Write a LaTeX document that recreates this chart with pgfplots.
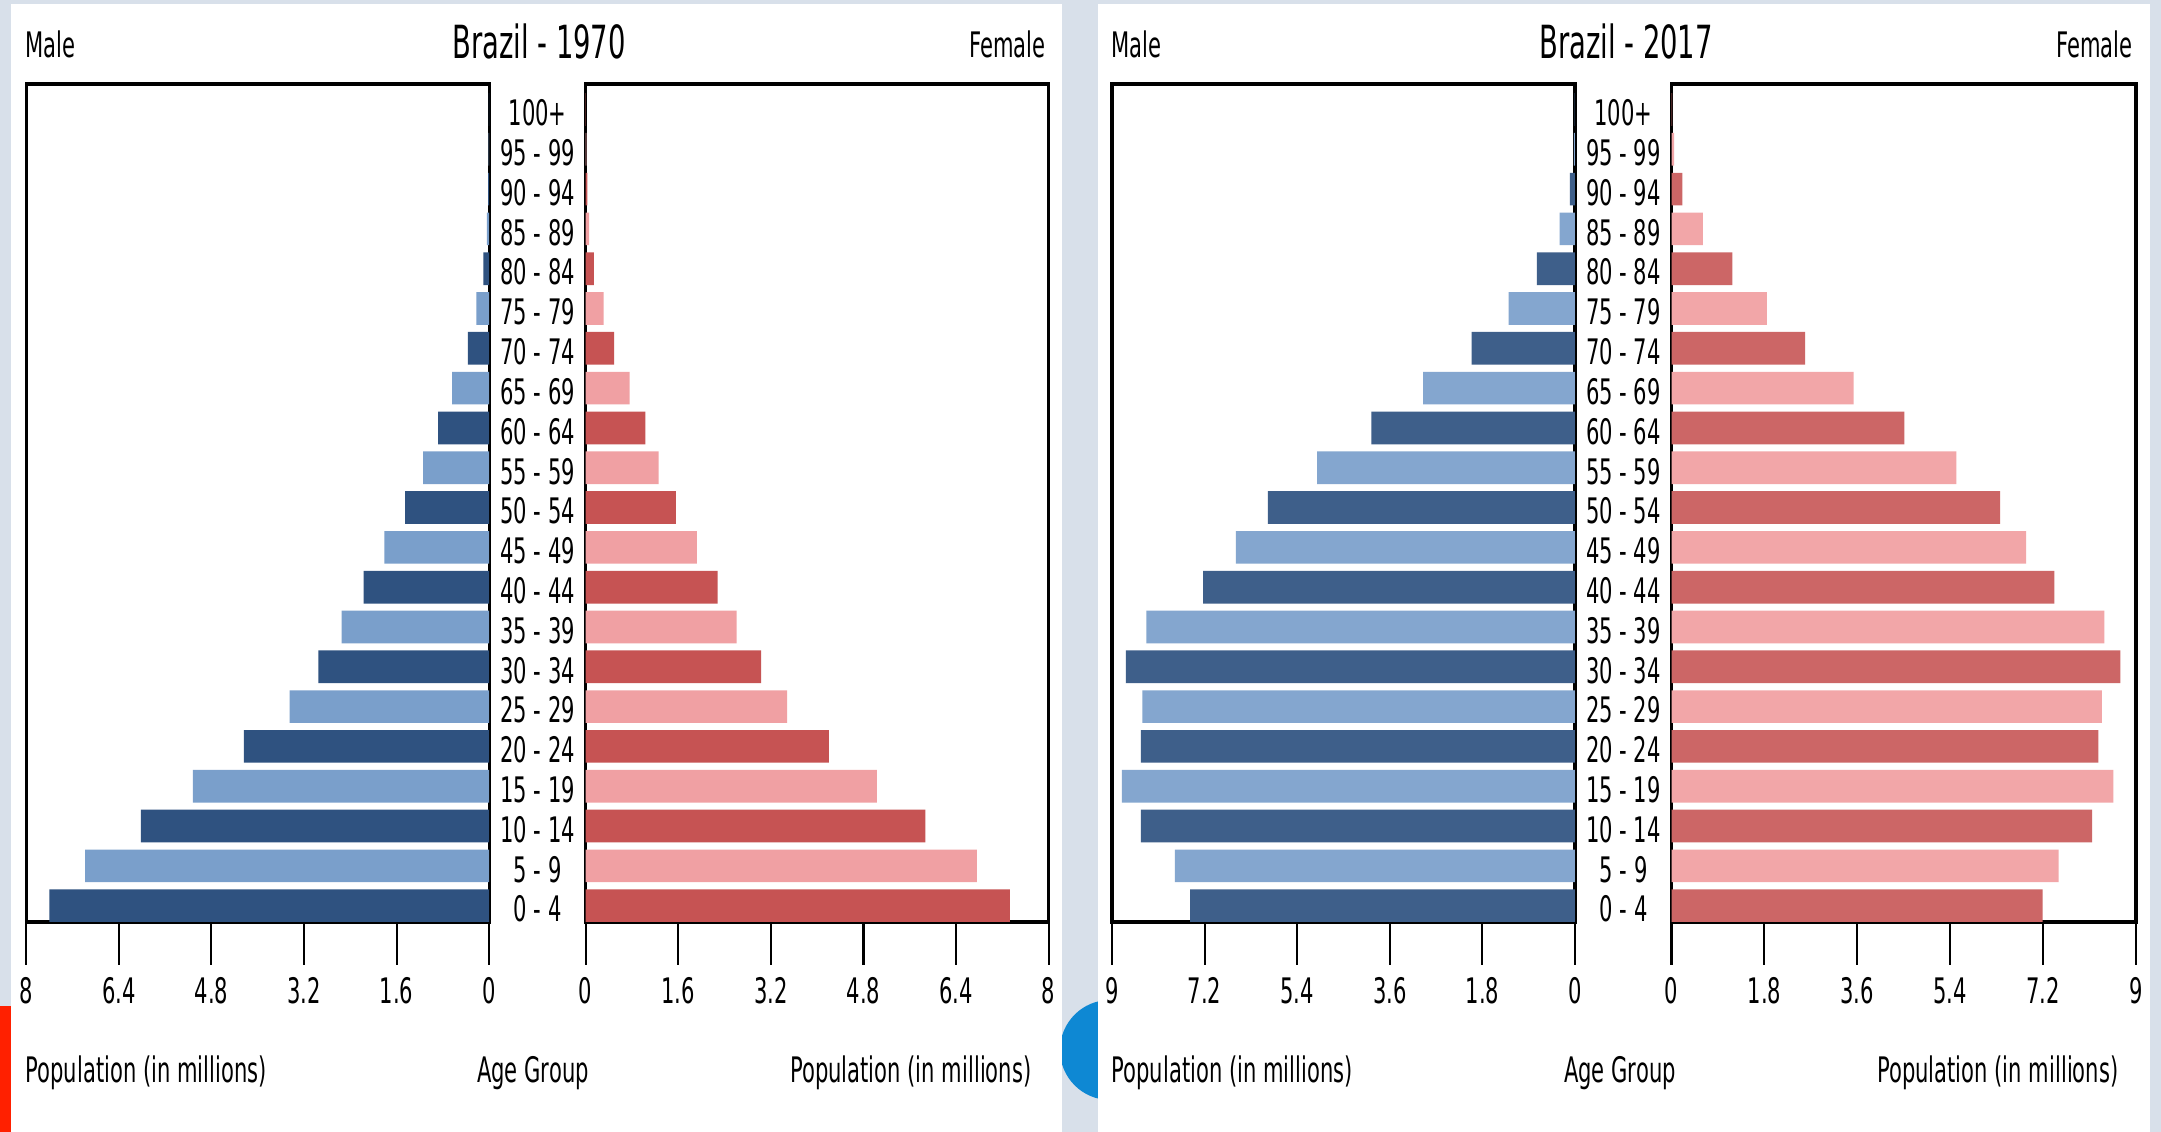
\documentclass[border=0pt]{standalone}
\usepackage{fontspec}
\setmainfont{DejaVu Sans}[FakeStretch=0.6]
\usepackage{pgfplots}
\pgfplotsset{compat=1.18}

\definecolor{bgcol}{HTML}{D8E0EA}
\definecolor{mdarkA}{HTML}{2F5280}
\definecolor{mlightA}{HTML}{7A9FCB}
\definecolor{fdarkA}{HTML}{C65353}
\definecolor{flightA}{HTML}{F0A0A3}
\definecolor{mdarkB}{HTML}{3E5F8A}
\definecolor{mlightB}{HTML}{84A6CF}
\definecolor{fdarkB}{HTML}{CC6666}
\definecolor{flightB}{HTML}{F2A6A8}

\pgfplotsset{
  pyr/.style={
    scale only axis, height=8.38cm,
    xbar, bar width=0.82, bar shift=0pt,
    ymin=-0.41, ymax=20.64,
    xtick pos=bottom, tick align=outside,
    major tick length=0.43cm,
    axis line style={line width=0.9pt},
    xtick style={line width=0.6pt, black},
    ytick style={draw=none},
    tick label style={font=\fontsize{10}{12}\selectfont},
    /pgf/number format/assume math mode=true,
  },
  male/.style={pyr, x dir=reverse, ytick=\empty},
  female/.style={pyr, ytick={0,...,20}, ytick pos=left,
    yticklabels={0 - 4,5 - 9,10 - 14,15 - 19,20 - 24,25 - 29,30 - 34,35 - 39,40 - 44,45 - 49,50 - 54,55 - 59,60 - 64,65 - 69,70 - 74,75 - 79,80 - 84,85 - 89,90 - 94,95 - 99,100+},
    yticklabel style={anchor=center, xshift=-0.05cm, yshift=-0.035cm}},
}

\begin{document}
\begin{tikzpicture}
\path[use as bounding box, fill=bgcol] (0,0) rectangle (21.61,11.32);
\fill[red!75!orange] (0,0) rectangle (0.11,1.26);
\fill[cyan!70!blue] (11.1,0.82) circle (0.5);
\fill[white] (0.11,0) rectangle (10.62,11.28);
\fill[white] (10.98,0) rectangle (21.50,11.28);

% 1970
\begin{axis}[male, at={(0.262cm,2.10cm)}, anchor=south west, width=4.63cm,
  xmin=0, xmax=8, xtick={0,1.6,3.2,4.8,6.4,8}, xticklabels={0,1.6,3.2,4.8,6.4,8}]
\addplot[fill=mdarkA, draw=none] coordinates {(7.60,0) (6.02,2) (4.24,4) (2.95,6) (2.17,8) (1.45,10) (0.88,12) (0.37,14) (0.10,16) (0.02,18) (0.005,20)};
\addplot[fill=mlightA, draw=none] coordinates {(6.98,1) (5.12,3) (3.45,5) (2.55,7) (1.81,9) (1.14,11) (0.64,13) (0.22,15) (0.04,17) (0.01,19)};
\end{axis}
\begin{axis}[female, at={(5.857cm,2.10cm)}, anchor=south west, width=4.63cm,
  xmin=0, xmax=8, xtick={0,1.6,3.2,4.8,6.4,8}, xticklabels={0,1.6,3.2,4.8,6.4,8}]
\addplot[fill=fdarkA, draw=none] coordinates {(7.33,0) (5.87,2) (4.20,4) (3.03,6) (2.28,8) (1.56,10) (1.03,12) (0.49,14) (0.14,16) (0.03,18) (0.005,20)};
\addplot[fill=flightA, draw=none] coordinates {(6.76,1) (5.03,3) (3.48,5) (2.61,7) (1.92,9) (1.26,11) (0.76,13) (0.31,15) (0.06,17) (0.01,19)};
\end{axis}

% 2017
\begin{axis}[male, at={(11.12cm,2.10cm)}, anchor=south west, width=4.63cm,
  xmin=0, xmax=9, xtick={0,1.8,3.6,5.4,7.2,9}, xticklabels={0,1.8,3.6,5.4,7.2,9}]
\addplot[fill=mdarkB, draw=none] coordinates {(7.48,0) (8.44,2) (8.44,4) (8.73,6) (7.23,8) (5.97,10) (3.96,12) (2.01,14) (0.74,16) (0.10,18) (0.005,20)};
\addplot[fill=mlightB, draw=none] coordinates {(7.78,1) (8.81,3) (8.41,5) (8.33,7) (6.59,9) (5.01,11) (2.95,13) (1.29,15) (0.30,17) (0.02,19)};
\end{axis}
\begin{axis}[female, at={(16.715cm,2.10cm)}, anchor=south west, width=4.645cm,
  xmin=0, xmax=9, xtick={0,1.8,3.6,5.4,7.2,9}, xticklabels={0,1.8,3.6,5.4,7.2,9}]
\addplot[fill=fdarkB, draw=none] coordinates {(7.19,0) (8.15,2) (8.27,4) (8.70,6) (7.42,8) (6.37,10) (4.51,12) (2.59,14) (1.18,16) (0.21,18) (0.01,20)};
\addplot[fill=flightB, draw=none] coordinates {(7.50,1) (8.56,3) (8.34,5) (8.39,7) (6.87,9) (5.52,11) (3.53,13) (1.85,15) (0.61,17) (0.05,19)};
\end{axis}

% titles and labels
\begin{scope}[every node/.style={inner sep=0pt, font=\fontsize{10}{12}\selectfont}]
\node[anchor=west] at (0.25,10.88) {Male};
\node[font=\fontsize{13}{15}\selectfont] at (5.39,10.91) {Brazil - 1970};
\node[anchor=east] at (10.46,10.88) {Female};
\node[anchor=west] at (0.25,0.59) {Population (in millions)};
\node at (5.33,0.59) {Age Group};
\node[anchor=east] at (10.32,0.59) {Population (in millions)};
\node[anchor=west] at (11.11,10.88) {Male};
\node[font=\fontsize{13}{15}\selectfont] at (16.26,10.91) {Brazil - 2017};
\node[anchor=east] at (21.33,10.88) {Female};
\node[anchor=west] at (11.11,0.59) {Population (in millions)};
\node at (16.20,0.59) {Age Group};
\node[anchor=east] at (21.19,0.59) {Population (in millions)};
\end{scope}
\end{tikzpicture}
\end{document}
